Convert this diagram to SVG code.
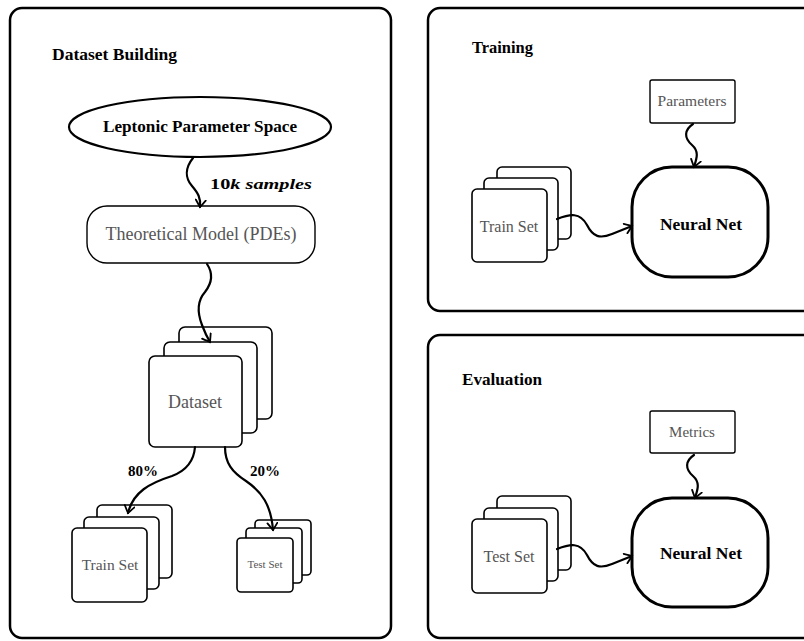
<svg xmlns="http://www.w3.org/2000/svg" width="804" height="641" viewBox="0 0 804 641">
  <style>
    .panel { fill: #fff; stroke: #000; stroke-width: 2.5; }
    .card { fill: #fff; stroke: #000; stroke-width: 1.6; }
    .box { fill: #fff; stroke: #000; stroke-width: 1.4; }
    .net { fill: #fff; stroke: #000; stroke-width: 3; }
    .title { font-family: "Liberation Serif", serif; font-weight: bold; font-size: 16px; fill: #000; }
    .label { font-family: "Liberation Serif", serif; fill: #555; text-anchor: middle; }
    .bold { font-family: "Liberation Serif", serif; font-weight: bold; fill: #000; text-anchor: middle; }
    .edge { fill: none; stroke: #000; stroke-width: 2.2; stroke-linecap: round; }
    .elabel { font-family: "Liberation Serif", serif; font-weight: bold; font-size: 15px; fill: #000; }
  </style>
  <defs>
    <marker id="arrow" viewBox="-8 -6 10 12" refX="0" refY="0" markerWidth="10" markerHeight="12" markerUnits="userSpaceOnUse" orient="auto">
      <path d="M-7,-5 Q-2,-1.5 0,0 Q-2,1.5 -7,5" fill="none" stroke="#000" stroke-width="1.8" stroke-linecap="round"/>
    </marker>
  </defs>
  <rect width="804" height="641" fill="#fff"/>

  <!-- panels -->
  <g id="panel-dataset">
    <rect class="panel" x="10" y="8" width="381" height="630" rx="12"/>
    <text class="title" x="52" y="60" textLength="125" lengthAdjust="spacingAndGlyphs">Dataset Building</text>
  </g>
  <g id="panel-training">
    <rect class="panel" x="428" y="8" width="400" height="303" rx="12"/>
    <text class="title" x="472" y="53" textLength="61" lengthAdjust="spacingAndGlyphs">Training</text>
  </g>
  <g id="panel-evaluation">
    <rect class="panel" x="428" y="335" width="400" height="303" rx="12"/>
    <text class="title" x="462" y="385" textLength="80" lengthAdjust="spacingAndGlyphs">Evaluation</text>
  </g>

  <!-- dataset building nodes -->
  <g id="param-space">
    <ellipse cx="200" cy="127" rx="131" ry="30" fill="#fff" stroke="#000" stroke-width="2.2"/>
    <text class="bold" x="200" y="132" font-size="17" textLength="194" lengthAdjust="spacingAndGlyphs">Leptonic Parameter Space</text>
  </g>
  <g id="theory-model">
    <rect class="box" x="87" y="206" width="228" height="57" rx="20" stroke-width="1.8"/>
    <text class="label" x="201" y="240" font-size="18">Theoretical Model (PDEs)</text>
  </g>
  <g id="dataset">
    <rect class="card" x="179" y="327" width="93" height="92" rx="6"/>
    <rect class="card" x="164" y="342" width="93" height="91" rx="6"/>
    <rect class="card" x="149" y="356" width="93" height="91" rx="6"/>
    <text class="label" x="195" y="408" font-size="18">Dataset</text>
  </g>
  <g id="train-set">
    <rect class="card" x="97" y="505" width="75" height="73" rx="5"/>
    <rect class="card" x="84" y="517" width="75" height="72" rx="5"/>
    <rect class="card" x="72" y="528" width="75" height="74" rx="5"/>
    <text class="label" x="110" y="570" font-size="15.5">Train Set</text>
  </g>
  <g id="test-set">
    <rect class="card" x="255" y="520" width="56" height="55" rx="4"/>
    <rect class="card" x="246" y="528" width="56" height="55" rx="4"/>
    <rect class="card" x="237" y="538" width="56" height="54" rx="4"/>
    <text class="label" x="265" y="568" font-size="11">Test Set</text>
  </g>

  <!-- training nodes -->
  <g id="train-params">
    <rect class="box" x="650" y="80" width="85" height="43" rx="2"/>
    <text class="label" x="692" y="106" font-size="15.5">Parameters</text>
  </g>
  <g id="train-data">
    <rect class="card" x="497" y="167" width="74" height="72" rx="5"/>
    <rect class="card" x="484" y="178" width="74" height="72" rx="5"/>
    <rect class="card" x="472" y="189" width="75" height="73" rx="5"/>
    <text class="label" x="509" y="232" font-size="16">Train Set</text>
  </g>
  <g id="train-net">
    <rect class="net" x="632" y="167" width="136" height="110" rx="40"/>
    <text class="bold" x="701" y="230" font-size="17" textLength="82" lengthAdjust="spacingAndGlyphs">Neural Net</text>
  </g>

  <!-- evaluation nodes -->
  <g id="eval-metrics">
    <rect class="box" x="650" y="411" width="85" height="42" rx="2"/>
    <text class="label" x="692" y="437" font-size="15">Metrics</text>
  </g>
  <g id="eval-data">
    <rect class="card" x="497" y="496" width="74" height="74" rx="5"/>
    <rect class="card" x="484" y="508" width="74" height="73" rx="5"/>
    <rect class="card" x="472" y="519" width="75" height="74" rx="5"/>
    <text class="label" x="509" y="562" font-size="16">Test Set</text>
  </g>
  <g id="eval-net">
    <rect class="net" x="632" y="498" width="136" height="109" rx="40"/>
    <text class="bold" x="701" y="559" font-size="17" textLength="82" lengthAdjust="spacingAndGlyphs">Neural Net</text>
  </g>

  <!-- connectors -->
  <g id="connectors">
    <path class="edge" marker-end="url(#arrow)" d="M193,158 C185,168 185,178 192,186 C198,193 201,198 200,207"/>
    <path class="edge" marker-end="url(#arrow)" d="M207,264 C213,273 212,283 205,292 C198,300 197,312 202,325 C205,333 207,337 210,342"/>
    <path class="edge" marker-end="url(#arrow)" d="M195,447 C194,460 188,470 172,476 C150,483 133,492 128,513"/>
    <path class="edge" marker-end="url(#arrow)" d="M225,447 C225,463 232,472 246,481 C262,492 271,505 273,530"/>
    <path class="edge" marker-end="url(#arrow)" d="M557,219 C570,214 580,212 587,225 C593,237 600,239 612,234 L632,226"/>
    <path class="edge" marker-end="url(#arrow)" d="M693,124 C684,130 684,138 692,145 C700,152 696,160 694,167"/>
    <path class="edge" marker-end="url(#arrow)" d="M557,549 C570,544 580,542 587,555 C593,567 600,569 612,564 L632,556"/>
    <path class="edge" marker-end="url(#arrow)" d="M694,455 C685,461 685,469 693,476 C701,483 697,491 695,498"/>
    <text class="elabel" x="210" y="189" font-size="17" textLength="102" lengthAdjust="spacingAndGlyphs">10<tspan font-style="italic">k samples</tspan></text>
    <text class="elabel" x="128" y="476" font-size="14">80%</text>
    <text class="elabel" x="250" y="476" font-size="14">20%</text>
  </g>
</svg>
